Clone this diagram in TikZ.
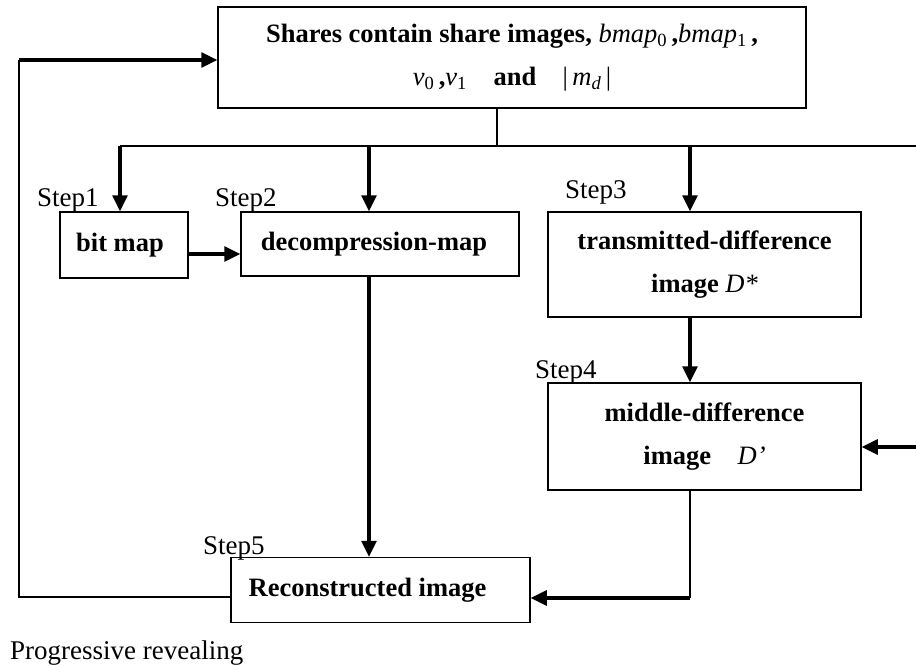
\documentclass[tikz,border=0pt]{standalone}
\usepackage{fontspec}
\setmainfont{Liberation Serif}
\usetikzlibrary{arrows.meta}
\newcommand\mi[1]{{\normalfont\itshape #1}}
\newcommand\subs[1]{\textsubscript{\normalfont #1}}
\tikzset{
  box/.style={draw, line width=1.5pt, inner sep=0pt, align=center,
    font=\fontsize{26.5}{43}\selectfont\bfseries},
  lbl/.style={anchor=base west, inner sep=0pt, font=\fontsize{27}{32}\selectfont},
  thinln/.style={line width=1.5pt},
  thickarr/.style={line width=3.2pt, -{Triangle[length=16pt,width=15pt]}},
}
\begin{document}
\begin{tikzpicture}[x=1pt,y=-1pt]
\useasboundingbox (0,0) rectangle (916,666);
% boxes
\node[box, minimum width=588pt, minimum height=101pt] (top) at (512,57.5)
  {Shares contain share images, \mi{bmap}\subs{0}\,,\mi{bmap}\subs{1}\,,\\
   \mi{v}\subs{0}\,,\mi{v}\subs{1}\quad and\quad {\normalfont|}\,\mi{m}\subs{\itshape d}\,{\normalfont|}};
\node[box, minimum width=128pt, minimum height=66pt] (bit) at (124,245) {bit map\hspace*{8pt}};
\node[box, minimum width=278pt, minimum height=64pt] (dec) at (380,244) {decompression-map\hspace*{12pt}};
\node[box, minimum width=313pt, minimum height=105pt] (s3) at (704.5,264.5)
  {transmitted-difference\\image \mi{D*}};
\node[box, minimum width=313pt, minimum height=107pt] (s4) at (704.5,436.5)
  {middle-difference\\image\quad \mi{D’}};
\node[box, minimum width=299pt, minimum height=65pt] (rec) at (380.5,590)
  {Reconstructed image\hspace*{26pt}};
% labels
\node[lbl] (l1) at (37,207) {Step1};
\node[lbl] (l2) at (215,207) {Step2};
\node[lbl] (l3) at (565,198) {Step3};
\node[lbl] (l4) at (535,378) {Step4};
\node[lbl] (l5) at (203,554) {Step5};
\node[lbl] (pr) at (10,659) {Progressive revealing};
% coordinates
\coordinate (j) at (497,146);
\coordinate (hl) at (120,146);
\coordinate (hr) at (916,146);
\coordinate (c2) at (369,146);
\coordinate (c3) at (690,146);
\coordinate (ba) at (0,254);
\coordinate (rin) at (916,447);
\coordinate (d4) at (690,598);
\coordinate (fb) at (19,597);
\coordinate (ft) at (19,60);
% connectors
\draw[thinln] (top.south -| j) -- (j);
\draw[thinln] (hl) -- (hr);
\draw[thickarr] (hl) -- (hl |- bit.north);
\draw[thickarr] (c2) -- (c2 |- dec.north);
\draw[thickarr] (c3) -- (c3 |- s3.north);
\draw[thickarr] (s3.south -| c3) -- (s4.north -| c3);
\draw[thickarr] (bit.east |- ba) -- (dec.west |- ba);
\draw[thickarr] (dec.south -| c2) -- (rec.north -| c2);
\draw[thinln] (s4.south -| c3) -- (d4);
\draw[thickarr] (d4) -- (rec.east |- d4);
\draw[thickarr] (rin) -- (s4.east |- rin);
\draw[thinln] (rec.west |- fb) -- (fb) -- (ft);
\draw[thickarr] (ft) -- (top.west |- ft);
\end{tikzpicture}
\end{document}
